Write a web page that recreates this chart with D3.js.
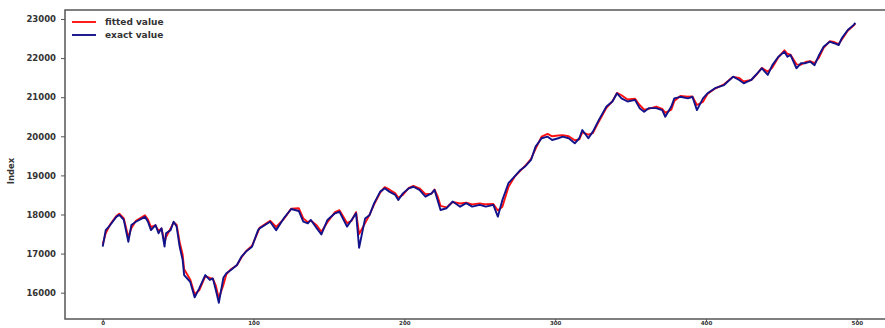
<!DOCTYPE html>
<html>
<head>
<meta charset="utf-8">
<script src="https://cdn.jsdelivr.net/npm/d3@7"></script>
<style>
  html, body { margin: 0; padding: 0; background: #fff; }
  svg { display: block; }
  text { font-family: "DejaVu Sans", sans-serif; }
</style>
</head>
<body>
<svg id="chart" width="885" height="328"></svg>
<script>
// Trading-day index of each sample
const days = [0, 2, 5, 9, 11, 14, 17, 19, 22, 28, 30, 32, 35, 37, 39, 41, 42, 45, 47, 49,
  51, 53, 54, 58, 61, 64, 68, 71, 73, 75, 77, 80, 82, 85, 89, 92, 95, 99, 103, 104,
  111, 115, 120, 125, 130, 133, 136, 138, 142, 145, 149, 154, 157, 162, 165, 168, 170, 174, 177, 180,
  184, 187, 190, 194, 196, 199, 203, 206, 210, 214, 218, 220, 222, 224, 228, 232, 237, 241, 245, 250,
  254, 259, 262, 265, 269, 273, 277, 280, 284, 287, 291, 295, 298, 302, 305, 309, 313, 316, 318, 322,
  325, 329, 334, 338, 341, 344, 348, 353, 356, 359, 362, 367, 371, 373, 377, 379, 383, 388, 391, 394,
  398, 401, 406, 412, 418, 422, 425, 430, 434, 437, 441, 444, 448, 452, 454, 456, 460, 463, 466, 469,
  472, 475, 478, 482, 485, 488, 490, 494, 498, 499];

// Observed index level
const exactValues = [17180, 17600, 17730, 17940, 17990, 17860, 17300, 17730, 17815, 17940, 17815, 17600, 17730, 17520, 17645, 17180, 17520, 17600, 17815, 17690,
  17180, 16840, 16450, 16280, 15880, 16110, 16450, 16325, 16366, 16070, 15740, 16380, 16496, 16580, 16710, 16920, 17050, 17176, 17600, 17645,
  17815, 17600, 17900, 18140, 18090, 17815, 17775, 17860, 17645, 17490, 17860, 18030, 18070, 17690, 17860, 18030, 17150, 17900, 17990, 18290,
  18585, 18670, 18585, 18500, 18370, 18540, 18670, 18710, 18630, 18455, 18540, 18630, 18370, 18115, 18160, 18330, 18200, 18290, 18200, 18245,
  18200, 18245, 17945, 18370, 18800, 18970, 19140, 19225, 19395, 19735, 19950, 19990, 19905, 19950, 19990, 19950, 19820, 19950, 20160, 19950,
  20120, 20420, 20760, 20890, 21100, 20970, 20890, 20930, 20720, 20630, 20720, 20720, 20670, 20500, 20760, 20970, 21010, 20970, 21010, 20670,
  20970, 21100, 21230, 21310, 21525, 21440, 21355, 21440, 21610, 21740, 21570, 21820, 22035, 22165, 22035, 22080, 21740, 21870, 21870, 21910,
  21820, 22080, 22290, 22420, 22380, 22335, 22505, 22720, 22850, 22900];

// Model output for the same days
const fittedValues = [17230, 17520, 17750, 17960, 18020, 17900, 17420, 17650, 17840, 17980, 17870, 17680, 17720, 17580, 17640, 17300, 17420, 17640, 17800, 17740,
  17300, 16980, 16600, 16340, 15960, 16060, 16420, 16380, 16360, 16180, 15860, 16200, 16470, 16600, 16700, 16900, 17060, 17200, 17560, 17660,
  17840, 17680, 17880, 18150, 18160, 17900, 17800, 17850, 17720, 17560, 17800, 18060, 18110, 17780, 17840, 18060, 17500, 17780, 18000, 18260,
  18560, 18700, 18640, 18540, 18430, 18500, 18680, 18730, 18670, 18520, 18530, 18640, 18470, 18220, 18180, 18320, 18280, 18300, 18260, 18280,
  18260, 18270, 18100, 18200, 18700, 18960, 19120, 19240, 19420, 19680, 19990, 20060, 20000, 20020, 20030, 20000, 19900, 19920, 20100, 20040,
  20080, 20380, 20730, 20900, 21110, 21050, 20940, 20960, 20800, 20680, 20700, 20760, 20700, 20600, 20680, 20900, 21030, 21010, 21020, 20800,
  20880, 21080, 21220, 21330, 21520, 21490, 21400, 21440, 21600, 21750, 21650, 21760, 22020, 22200, 22110, 22090, 21840, 21830, 21900, 21920,
  21870, 22020, 22260, 22430, 22410, 22360, 22470, 22700, 22840, 22880];

const xTicks = [0, 100, 200, 300, 400, 500];
const yTicks = [16000, 17000, 18000, 19000, 20000, 21000, 22000, 23000];
const seriesNames = ["fitted value", "exact value"];
const seriesColors = ["#ff1010", "#12128a"];
const yTitle = "Index";

const svg = d3.select("#chart");
const plot = { left: 65, right: 893, top: 10, bottom: 319 };

const x = d3.scaleLinear().domain([-25, 524]).range([plot.left, plot.right]);
const y = d3.scaleLinear().domain([15327, 23230]).range([plot.bottom, plot.top]);

const rows = days.map((d, i) => ({ day: d, exact: exactValues[i], fitted: fittedValues[i] }));

// Series lines: fitted underneath, exact on top
const lineFitted = d3.line().x(d => x(d.day)).y(d => y(d.fitted));
const lineExact = d3.line().x(d => x(d.day)).y(d => y(d.exact));

svg.append("path").datum(rows)
  .attr("d", lineFitted).attr("fill", "none")
  .attr("stroke", seriesColors[0]).attr("stroke-width", 1.9)
  .attr("stroke-linejoin", "round");
svg.append("path").datum(rows)
  .attr("d", lineExact).attr("fill", "none")
  .attr("stroke", seriesColors[1]).attr("stroke-width", 1.9)
  .attr("stroke-linejoin", "round");

// Frame
svg.append("rect")
  .attr("x", plot.left).attr("y", plot.top)
  .attr("width", plot.right - plot.left).attr("height", plot.bottom - plot.top)
  .attr("fill", "none").attr("stroke", "#555").attr("stroke-width", 1.5);

// Axes
const xAxis = d3.axisBottom(x).tickValues(xTicks).tickSize(3).tickPadding(0).tickFormat(d3.format("d"));
const yAxis = d3.axisLeft(y).tickValues(yTicks).tickSize(4).tickPadding(5).tickFormat(d3.format("d"));

const gx = svg.append("g").attr("transform", `translate(0,${plot.bottom})`).call(xAxis);
const gy = svg.append("g").attr("transform", `translate(${plot.left},0)`).call(yAxis);
[gx, gy].forEach(g => {
  g.select(".domain").remove();
  g.selectAll(".tick line").attr("stroke", "#555").attr("stroke-width", 1);
  g.selectAll(".tick text").attr("fill", "#333").attr("font-size", 8.5)
    .attr("font-weight", "bold").style("font-family", "DejaVu Sans, sans-serif");
});
// x tick labels sit in the narrow strip under the frame
gx.selectAll(".tick text").attr("font-size", 5.5).attr("dy", "0.62em");

// Y title
svg.append("text")
  .attr("transform", "translate(14,171) rotate(-90)")
  .attr("text-anchor", "middle")
  .attr("font-size", 8.5).attr("font-weight", "bold").attr("fill", "#333")
  .text(yTitle);

// Legend
const legend = svg.append("g");
seriesNames.forEach((name, i) => {
  const ly = 22 + i * 13;
  legend.append("line")
    .attr("x1", 72).attr("x2", 96).attr("y1", ly).attr("y2", ly)
    .attr("stroke", seriesColors[i]).attr("stroke-width", 1.9);
  legend.append("text")
    .attr("x", 105).attr("y", ly).attr("dy", "0.35em")
    .attr("font-size", 9).attr("font-weight", "bold").attr("fill", "#333")
    .text(name);
});
</script>
</body>
</html>
